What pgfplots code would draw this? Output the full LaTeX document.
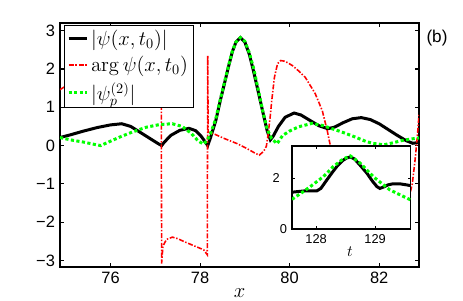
\documentclass[border=0pt]{standalone}
\usepackage[no-math]{fontspec}
\setmainfont{Liberation Sans}
\usepackage{pgfplots}
\pgfplotsset{compat=1.18}
\definecolor{mred}{rgb}{1,0,0}
\definecolor{mgreen}{rgb}{0,1,0}
\begin{document}
\begin{tikzpicture}[x=1pt,y=1pt]
\useasboundingbox (0,0) rectangle (324.1,210);
\begin{axis}[
  at={(42pt,23.1pt)}, anchor=south west,
  scale only axis, width=251.3pt, height=170.8pt,
  xmin=74.87, xmax=82.89, ymin=-3.17, ymax=3.2,
  xtick={76,78,80,82}, xticklabels={76,78,80,82},
  ytick={-3,-2,-1,0,1,2,3}, yticklabels={−3,−2,−1,0,1,2,3},
  tick align=inside, major tick length=2.8pt,
  tick style={black, line width=0.8pt},
  axis line style={line width=1pt},
  ticklabel style={font=\fontsize{11.5}{13}\selectfont},
  xlabel={$x$},
  xlabel style={font=\fontsize{13.5}{15}\selectfont, at={(axis description cs:0.5,-0.105)}, anchor=center},
  legend style={at={(0.011,0.99)}, anchor=north west, draw=black, line width=0.6pt, fill=white,
    inner xsep=2pt, inner ysep=1pt, font=\fontsize{13.8}{16}\selectfont, row sep=2pt,
    cells={anchor=west, inner sep=1pt}},
  legend image code/.code={\draw[#1] (0pt,0pt) -- (12.6pt,0pt);},
]
\addplot[black, line width=2.1pt] coordinates {
(74.87,0.21) (75.1,0.28) (75.4,0.38) (75.7,0.47) (76.0,0.54) (76.25,0.57) (76.45,0.50)
(76.67,0.34) (76.9,0.17) (77.05,0.06) (77.14,0.0) (77.2,0.09) (77.35,0.27) (77.55,0.40)
(77.75,0.45) (77.9,0.39) (78.02,0.25) (78.1,0.12) (78.17,0.0) (78.23,0.2) (78.35,0.65)
(78.45,1.17) (78.55,1.65) (78.63,2.04) (78.72,2.45) (78.8,2.7) (78.9,2.82) (79.0,2.7)
(79.1,2.38) (79.19,1.96) (79.3,1.4) (79.41,0.83) (79.5,0.38) (79.57,0.15) (79.63,0.24)
(79.75,0.5) (79.9,0.74) (80.1,0.85) (80.25,0.8) (80.45,0.66) (80.65,0.52) (80.85,0.44)
(81.0,0.48) (81.2,0.6) (81.4,0.7) (81.6,0.73) (81.8,0.68) (82.0,0.57) (82.2,0.42)
(82.4,0.27) (82.6,0.13) (82.75,0.06) (82.89,0.08)};
\addlegendentry{$|\psi(x,t_0)|$}
\addplot[mred, line width=1.1pt, dash pattern=on 3.5pt off 1.2pt on 1pt off 1.2pt] coordinates {
(74.87,1.46) (75.2,1.7) (75.6,2.0) (76.0,2.3) (76.5,2.65) (77.0,3.0) (77.13,3.1)
(77.14,-3.08) (77.17,-2.62) (77.25,-2.45) (77.38,-2.39) (77.5,-2.43) (77.63,-2.5)
(77.85,-2.61) (78.08,-2.72) (78.16,-2.85) (78.17,2.35) (78.18,0.35) (78.3,0.31)
(78.55,0.18) (78.83,0.05) (79.05,-0.08) (79.2,-0.18) (79.32,-0.25) (79.42,-0.15)
(79.48,-0.02) (79.52,0.3) (79.57,0.8) (79.6,1.17) (79.66,1.78) (79.73,2.14) (79.8,2.22)
(79.9,2.2) (80.06,2.09) (80.2,1.95) (80.35,1.78) (80.57,1.36) (80.73,0.91) (80.84,0.39)
(80.9,0.05) (81.0,-0.3) (81.4,-0.9) (82.0,-1.4) (82.5,-1.5) (82.68,-1.3) (82.74,-1.0)
(82.8,-0.4) (82.85,0.2) (82.89,0.8)};
\addlegendentry{$\arg\psi(x,t_0)$}
\addplot[mgreen, line width=2.1pt, dash pattern=on 2.2pt off 1.7pt] coordinates {
(74.87,0.21) (75.1,0.15) (75.4,0.09) (75.6,0.04) (75.78,0.0) (75.95,0.09) (76.2,0.22)
(76.5,0.36) (76.8,0.48) (77.1,0.55) (77.38,0.57) (77.6,0.5) (77.8,0.32) (77.95,0.13)
(78.07,0.04) (78.15,0.12) (78.23,0.3) (78.35,0.7) (78.45,1.2) (78.55,1.68) (78.63,2.06)
(78.72,2.46) (78.8,2.7) (78.9,2.82) (79.0,2.72) (79.1,2.42) (79.2,2.0) (79.3,1.45)
(79.4,0.9) (79.5,0.42) (79.6,0.18) (79.72,0.05) (79.84,0.26) (80.0,0.38) (80.2,0.49)
(80.5,0.58) (80.75,0.52) (80.95,0.44) (81.2,0.34) (81.47,0.22) (81.7,0.11) (81.85,0.06)
(82.1,0.02) (82.3,0.07) (82.5,0.13) (82.7,0.17) (82.89,0.2)};
\addlegendentry{$|\psi_p^{(2)}|$}
\end{axis}
\begin{axis}[
  at={(204.4pt,49.7pt)}, anchor=south west,
  scale only axis, width=82.95pt, height=58.1pt,
  xmin=127.59, xmax=129.6, ymin=0, ymax=3.27,
  xtick={128,129}, xticklabels={128,129},
  ytick={0,2}, yticklabels={0,{2\kern5pt}},
  axis background/.style={fill=white},
  tick align=inside, major tick length=2pt,
  tick style={black, line width=0.7pt},
  axis line style={line width=1pt},
  ticklabel style={font=\fontsize{9}{10}\selectfont},
  xlabel={$t$},
  xlabel style={font=\fontsize{10.5}{12}\selectfont, at={(axis description cs:0.49,-0.277)}, anchor=center},
]
\addplot[black, line width=2.1pt] coordinates {
(127.59,1.45) (127.67,1.47) (127.8,1.5) (127.92,1.5) (128.01,1.5) (128.08,1.6)
(128.18,1.93) (128.27,2.22) (128.35,2.46) (128.45,2.7) (128.52,2.8) (128.58,2.84)
(128.65,2.76) (128.75,2.5) (128.86,2.2) (128.95,1.9) (129.03,1.67) (129.08,1.6)
(129.15,1.66) (129.22,1.74) (129.3,1.78) (129.42,1.78) (129.53,1.74) (129.6,1.71)};
\addplot[mgreen, line width=2.1pt, dash pattern=on 2.2pt off 1.7pt] coordinates {
(127.59,1.17) (127.75,1.42) (127.9,1.67) (128.12,2.06) (128.29,2.46) (128.45,2.75)
(128.58,2.88) (128.75,2.59) (128.97,2.06) (129.25,1.54) (129.58,1.17) (129.6,1.15)};
\end{axis}
\node[font=\fontsize{12}{13}\selectfont] at (305.9,183.4) {(b)};
\end{tikzpicture}
\end{document}
